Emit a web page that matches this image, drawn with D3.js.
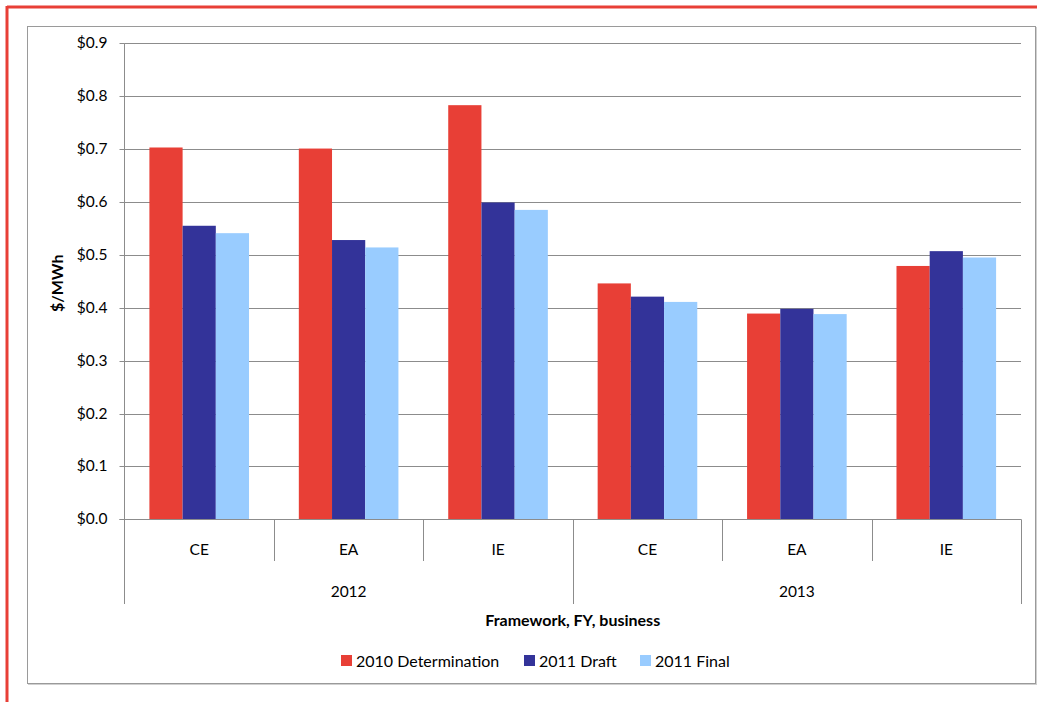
<!DOCTYPE html>
<html>
<head>
<meta charset="utf-8">
<script src="https://cdn.jsdelivr.net/npm/d3@7"></script>
<style>
  html, body { margin: 0; padding: 0; background: #fff; }
  svg { display: block; font-family: Lato, "Open Sans", "Liberation Sans", sans-serif; }
</style>
</head>
<body>
<svg id="chart" width="1037" height="702"></svg>
<script>
// Network charges by framework, financial year and business ($/MWh)
const years = ["2012", "2013"];
const businesses = ["CE", "EA", "IE"];
const seriesNames = ["2010 Determination", "2011 Draft", "2011 Final"];
const seriesColors = ["#E83F36", "#333399", "#99CCFF"];
const determination2010 = [0.703, 0.701, 0.783, 0.446, 0.389, 0.479];
const draft2011 = [0.555, 0.528, 0.599, 0.421, 0.398, 0.507];
const final2011 = [0.541, 0.514, 0.585, 0.411, 0.388, 0.495];
const yTicks = [0, 0.1, 0.2, 0.3, 0.4, 0.5, 0.6, 0.7, 0.8, 0.9];

const svg = d3.select("#chart");
const W = 1037, H = 702;
const labelSize = 15.5;

// outer red frame (top and left edges)
svg.append("line").attr("x1", 7).attr("x2", W).attr("y1", 7).attr("y2", 7)
  .attr("stroke", "#E83F36").attr("stroke-width", 3);
svg.append("line").attr("x1", 7).attr("x2", 7).attr("y1", 6).attr("y2", H)
  .attr("stroke", "#E83F36").attr("stroke-width", 3);

// chart area border
svg.append("rect").attr("x", 27.5).attr("y", 26.5).attr("width", 1008).attr("height", 657)
  .attr("fill", "#fff").attr("stroke", "#9a9a9a").attr("stroke-width", 1);
svg.append("line").attr("x1", 28).attr("x2", 1036).attr("y1", 684.5).attr("y2", 684.5)
  .attr("stroke", "#d0d0d0").attr("stroke-width", 1);
svg.append("line").attr("x1", 1036.5).attr("x2", 1036.5).attr("y1", 27).attr("y2", 685)
  .attr("stroke", "#d0d0d0").attr("stroke-width", 1);

const plot = { left: 124.5, right: 1021, top: 43.3, bottom: 519.3 };

const groups = [];
years.forEach(y => businesses.forEach(b => groups.push(y + "|" + b)));

const rows = groups.map((g, i) => ({
  key: g,
  values: [determination2010[i], draft2011[i], final2011[i]]
}));

const x0 = d3.scaleBand().domain(groups).range([plot.left, plot.right]).padding(0);
const x1 = d3.scaleBand().domain(seriesNames).range([0, x0.bandwidth()])
  .paddingInner(0).paddingOuter(0.75);
const y = d3.scaleLinear().domain([0, 0.9]).range([plot.bottom, plot.top]);

// gridlines
svg.append("g")
  .selectAll("line").data(yTicks.slice(1)).join("line")
  .attr("x1", plot.left).attr("x2", plot.right)
  .attr("y1", d => Math.round(y(d)) + 0.5).attr("y2", d => Math.round(y(d)) + 0.5)
  .attr("stroke", "#8c8c8c").attr("stroke-width", 1);

// y axis
const yAxis = d3.axisLeft(y).tickValues(yTicks).tickSize(5).tickPadding(12)
  .tickFormat(d => "$" + d.toFixed(1));
const gy = svg.append("g").attr("transform", `translate(${plot.left},0)`).call(yAxis);
gy.select(".domain").remove();
gy.selectAll(".tick line").attr("stroke", "#8c8c8c");
gy.selectAll(".tick").attr("transform", d => `translate(0,${Math.round(y(d)) + 0.5})`);
gy.selectAll(".tick text").attr("font-size", labelSize).attr("fill", "#000")
  .attr("font-family", "Lato, 'Open Sans', sans-serif");
svg.append("line").attr("x1", plot.left).attr("x2", plot.left)
  .attr("y1", plot.top).attr("y2", 604)
  .attr("stroke", "#8c8c8c").attr("stroke-width", 1);

// bars
const gBars = svg.append("g");
gBars.selectAll("g").data(rows).join("g")
  .attr("transform", d => `translate(${x0(d.key)},0)`)
  .selectAll("rect").data(d => d.values.map((v, i) => ({ s: seriesNames[i], v, c: seriesColors[i] })))
  .join("rect")
  .attr("x", d => x1(d.s))
  .attr("width", x1.bandwidth())
  .attr("y", d => y(d.v))
  .attr("height", d => y(0) - y(d.v))
  .attr("fill", d => d.c);

// category axis baseline
svg.append("line").attr("x1", plot.left - 5).attr("x2", plot.right)
  .attr("y1", Math.round(plot.bottom) + 0.5).attr("y2", Math.round(plot.bottom) + 0.5)
  .attr("stroke", "#8c8c8c").attr("stroke-width", 1);

// separators between businesses and years
groups.forEach((g, i) => {
  if (i === 0) return;
  const xs = Math.round(x0(g)) + 0.5;
  const yearBoundary = i % businesses.length === 0;
  svg.append("line").attr("x1", xs).attr("x2", xs)
    .attr("y1", plot.bottom).attr("y2", yearBoundary ? 604 : 561)
    .attr("stroke", "#8c8c8c").attr("stroke-width", 1);
});
svg.append("line").attr("x1", plot.right + 0.5).attr("x2", plot.right + 0.5)
  .attr("y1", plot.bottom).attr("y2", 604)
  .attr("stroke", "#8c8c8c").attr("stroke-width", 1);

// business labels
svg.append("g").selectAll("text").data(groups).join("text")
  .attr("x", d => x0(d) + x0.bandwidth() / 2)
  .attr("y", 550)
  .attr("dy", "0.35em")
  .attr("text-anchor", "middle")
  .attr("font-size", labelSize)
  .text(d => d.split("|")[1]);

// year labels
svg.append("g").selectAll("text").data(years).join("text")
  .attr("x", yr => {
    const gs = groups.filter(g => g.startsWith(yr + "|"));
    return (x0(gs[0]) + x0(gs[gs.length - 1]) + x0.bandwidth()) / 2;
  })
  .attr("y", 592)
  .attr("dy", "0.35em")
  .attr("text-anchor", "middle")
  .attr("font-size", labelSize)
  .text(d => d);

// axis titles
svg.append("text")
  .attr("x", (plot.left + plot.right) / 2).attr("y", 620).attr("dy", "0.35em")
  .attr("text-anchor", "middle").attr("font-size", 16).attr("font-weight", "bold")
  .text("Framework, FY, business");
svg.append("text")
  .attr("transform", `translate(57,${(plot.top + plot.bottom) / 2 + 2}) rotate(-90)`)
  .attr("dy", "0.35em")
  .attr("text-anchor", "middle").attr("font-size", 16).attr("font-weight", "bold")
  .text("$/MWh");

// legend
const legendX = [341, 524, 640];
const legend = svg.append("g").selectAll("g").data(seriesNames).join("g")
  .attr("transform", (d, i) => `translate(${legendX[i]},655)`);
legend.append("rect").attr("width", 11).attr("height", 11)
  .attr("fill", (d, i) => seriesColors[i]);
legend.append("text").attr("x", 15).attr("y", 6).attr("dy", "0.35em")
  .attr("font-size", 16).text(d => d);
</script>
</body>
</html>
